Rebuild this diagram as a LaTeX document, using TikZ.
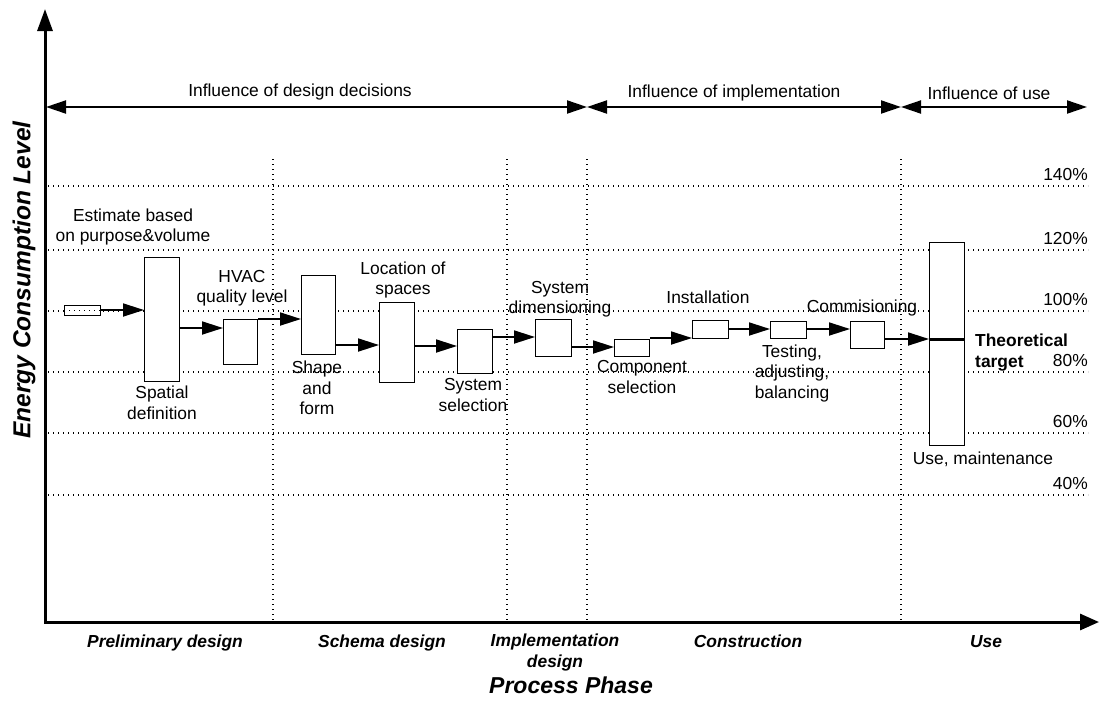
\documentclass[tikz,border=0pt]{standalone}
\usepackage{fontspec}
\setmainfont{Liberation Sans}
\usetikzlibrary{arrows.meta,calc}
\begin{document}
\begin{tikzpicture}[x=1pt,y=-1pt,
  lbl/.style={font=\fontsize{17.4}{20.5}\selectfont, align=center, inner sep=0pt},
  phase/.style={font=\fontsize{17.4}{21}\selectfont\bfseries\itshape, align=center, inner sep=0pt},
  pct/.style={font=\fontsize{17.4}{20}\selectfont, inner sep=0pt, anchor=base east},
  box/.style={draw, line width=1.4pt, inner sep=0pt, anchor=north west, fill=white},
  flow/.style={line width=1.8pt, -{Triangle[length=21pt,width=13pt]}},
  gridline/.style={line width=1.2pt, dash pattern=on 1.2pt off 3.8pt},
  axisline/.style={line width=3pt, {Triangle[length=22pt,width=15pt]}-{Triangle[length=19pt,width=16pt]}},
  infl/.style={line width=2pt, {Triangle[length=20pt,width=13pt]}-{Triangle[length=20pt,width=13pt]}},
]
\useasboundingbox (0,0) rectangle (1099,702);

% grid
\foreach \yy in {186,250,311,372,433,495}
  \draw[gridline] (48,\yy) -- (1088,\yy);
\foreach \xx in {273,507,587,901}
  \draw[gridline] (\xx,159) -- (\xx,620);

% percent labels
\node[pct] (p140) at (1088,180) {140\%};
\node[pct] (p120) at (1088,244) {120\%};
\node[pct] (p100) at (1088,305) {100\%};
\node[pct] (p80)  at (1088,366) {80\%};
\node[pct] (p60)  at (1088,427) {60\%};
\node[pct] (p40)  at (1088,489) {40\%};

% axes
\coordinate (ytop) at (45,9);
\coordinate (O) at (45,622);
\coordinate (xend) at (1099,622);
\draw[axisline] (ytop) -- (O) -- (xend);

% influence arrows
\coordinate (i0) at (46,107);
\coordinate (i1) at (587,107);
\coordinate (i2) at (901,107);
\coordinate (i3) at (1087,107);
\draw[infl] (i0) -- (i1);
\draw[infl] (i1) -- (i2);
\draw[infl] (i2) -- (i3);
\node[lbl] (t1) at (300,92) {Influence of design decisions};
\node[lbl] (t2) at (734,93) {Influence of implementation};
\node[lbl] (t3) at (989,93) {Influence of use};

% boxes
\node[box, minimum width=36pt, minimum height=10pt]  (b0)  at (64,305)  {};
\node[box, minimum width=35pt, minimum height=124pt] (b1)  at (144,257) {};
\node[box, minimum width=34pt, minimum height=45pt]  (b2)  at (223,319) {};
\node[box, minimum width=34pt, minimum height=79pt]  (b3)  at (301,275) {};
\node[box, minimum width=35pt, minimum height=80pt]  (b4)  at (379,302) {};
\node[box, minimum width=35pt, minimum height=44pt]  (b5)  at (457,329) {};
\node[box, minimum width=36pt, minimum height=37pt]  (b6)  at (535,319) {};
\node[box, minimum width=35pt, minimum height=17pt]  (b7)  at (614,339) {};
\node[box, minimum width=36pt, minimum height=18pt]  (b8)  at (692,320) {};
\node[box, minimum width=36pt, minimum height=17pt]  (b9)  at (770,321) {};
\node[box, minimum width=34pt, minimum height=27pt]  (b10) at (850,321) {};
\node[box, minimum width=35pt, minimum height=203pt] (b11) at (929,242) {};

% dotted line visible inside small box
\draw[gridline] (b0.west) -- (b0.east);

% flows
\draw[flow] (b0.east |- 0,310) -- (b1.west |- 0,310);
\draw[flow] (b1.east |- 0,328) -- (b2.west |- 0,328);
\draw[flow] (b2.east |- 0,319) -- (b3.west |- 0,319);
\draw[flow] (b3.east |- 0,345) -- (b4.west |- 0,345);
\draw[flow] (b4.east |- 0,346) -- (b5.west |- 0,346);
\draw[flow] (b5.east |- 0,337) -- (b6.west |- 0,337);
\draw[flow] (b6.east |- 0,347) -- (b7.west |- 0,347);
\draw[flow] (b7.east |- 0,338) -- (b8.west |- 0,338);
\draw[flow] (b8.east |- 0,329) -- (b9.west |- 0,329);
\draw[flow] (b9.east |- 0,329) -- (b10.west |- 0,329);
\draw[flow] (b10.east |- 0,339) -- (b11.west |- 0,339);
\draw[line width=3pt] (b11.west |- 0,339) -- (b11.east |- 0,339);

% box labels
\node[lbl] (lest)  at (133,227) {Estimate based\\on purpose\&volume};
\node[lbl] (lspat) at (162,403) {Spatial\\definition};
\node[lbl] (lhvac) at (242,288) {HVAC\\quality level};
\node[lbl] (lshap) at (317,388) {Shape\\and\\form};
\node[lbl] (lloc)  at (403,280) {Location of\\spaces};
\node[lbl] (lssel) at (473,395) {System\\selection};
\node[lbl] (lsdim) at (560,299) {System\\dimensioning};
\node[lbl] (lcomp) at (642,377) {Component\\selection};
\node[lbl] (linst) at (708,297) {Installation};
\node[lbl] (lcomm) at (862,308) {Commisioning};
\node[lbl] (ltest) at (792,373) {Testing,\\adjusting,\\balancing};
\node[lbl] (luse)  at (983,459) {Use, maintenance};
\node[lbl, font=\fontsize{17.4}{21}\selectfont\bfseries, align=left, anchor=west] (ltheo) at (975,353) {Theoretical\\target};

% phases
\node[phase, anchor=base] (ph1) at (165,647) {Preliminary design};
\node[phase, anchor=base] (ph2) at (382,647) {Schema design};
\node[phase] (ph3) at (555,652) {Implementation\\design};
\node[phase, anchor=base] (ph4) at (748,647) {Construction};
\node[phase, anchor=base] (ph5) at (986,647) {Use};

% axis titles
\node[font=\fontsize{23}{26}\selectfont\bfseries\itshape, inner sep=0pt] (xlab) at (571,685) {Process Phase};
\node[font=\fontsize{24.5}{28}\selectfont\bfseries\itshape, inner sep=0pt, rotate=90] (ylab) at (24,280) {Energy Consumption Level};
\end{tikzpicture}
\end{document}
